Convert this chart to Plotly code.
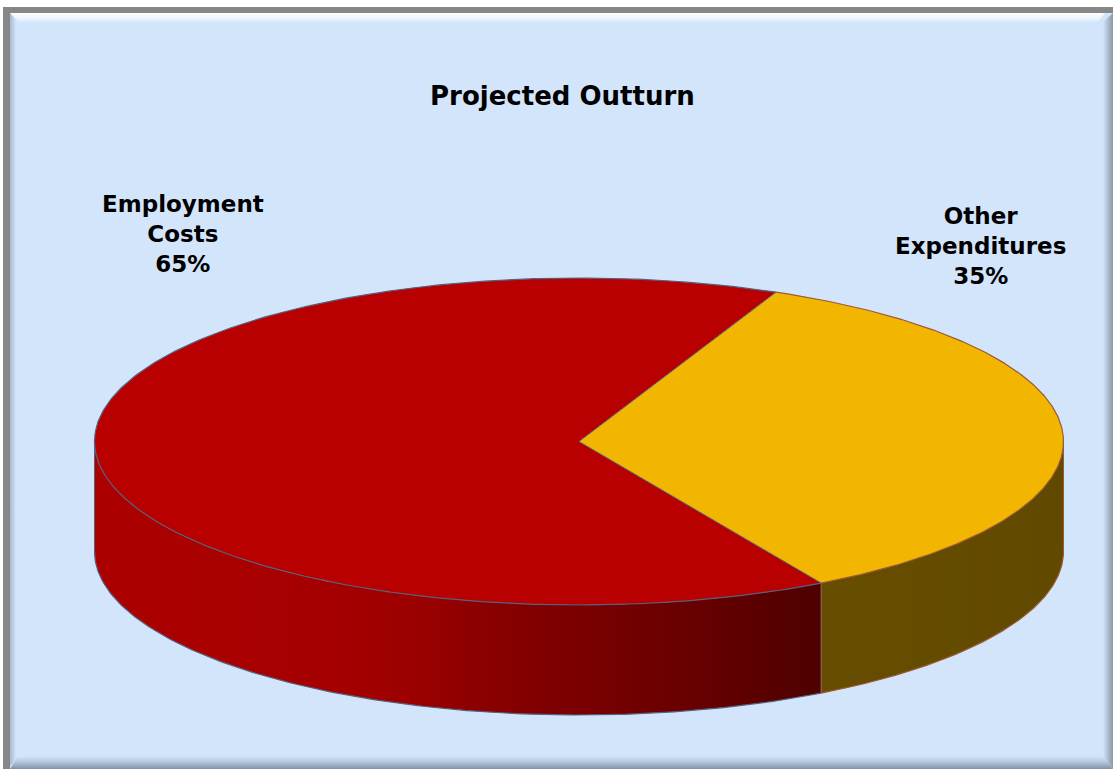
import numpy as np
import plotly.graph_objects as go

# ---- data ----
categories = ["Employment Costs", "Other Expenditures"]
label_names = ["Employment<br>Costs", "Other<br>Expenditures"]
values = [65, 35]
title_text = "Projected Outturn"

# ---- style ----
top_colors = [(184, 0, 0), (242, 182, 0)]
edge_colors = ["#55607E", "#9C5A32"]
label_pos = [(183, 234), (980, 246)]
BG = "#D3E5FB"
FONT = "DejaVu Sans, Verdana, sans-serif"

W, H = 1113, 769
CX, CY = 579.0, 441.5      # centre of the top face (pixels)
RX, RY = 484.5, 163.5      # radii of the top ellipse
DEPTH = 110.0              # thickness of the disc
START_DEG = -60.0          # first slice starts here (anticlockwise from 3 o'clock), slices run clockwise

# side-wall lighting as a function of x
shade_x = [95, 250, 350, 400, 470, 480, 580, 680, 822, 1063]
shade_f = [0.935, 0.913, 0.886, 0.86, 0.775, 0.75, 0.663, 0.576, 0.424, 0.40]


def ellipse(t_deg, dy=0.0):
    t = np.radians(np.asarray(t_deg, dtype=float))
    return CX + RX * np.cos(t), CY - RY * np.sin(t) + dy


def rgb(c, f=1.0):
    return "rgb(%d,%d,%d)" % tuple(int(round(v * f)) for v in c)


def poly(xs, ys, **kw):
    return go.Scatter(x=list(xs), y=list(ys), mode="lines", fill="toself",
                      hoverinfo="skip", showlegend=False, **kw)


def line(xs, ys, color, width=1.2):
    return go.Scatter(x=list(xs), y=list(ys), mode="lines", hoverinfo="skip",
                      showlegend=False, line=dict(color=color, width=width))


fig = go.Figure()

# ---- frame ----
fig.add_trace(poly([3, W, W, 3], [7, 7, H, H], fillcolor="#878787", line=dict(width=0)))
fig.add_trace(poly([10, W, W, 10], [13, 13, H, H], fillcolor=BG, line=dict(width=0)))
fig.add_trace(poly([10, 1105, 1097, 20], [13, 13, 23, 23], line=dict(width=0),
                   fillgradient=dict(type="vertical", start=13, stop=23,
                                     colorscale=[[0, "#FBFDFF"], [0.5, "#EEF6FF"], [1, BG]])))
fig.add_trace(poly([10, 16, 16, 10], [13, 20, 760, 766], line=dict(width=0),
                   fillgradient=dict(type="horizontal", start=10, stop=16,
                                     colorscale=[[0, "#A9BACD"], [1, BG]])))
fig.add_trace(poly([1103, W, W, 1103], [22, 13, H, 756], line=dict(width=0),
                   fillgradient=dict(type="horizontal", start=1103, stop=W,
                                     colorscale=[[0, BG], [0.35, "#B9CADD"], [1, "#8797AA"]])))
fig.add_trace(poly([18, 1103, W, 10], [756, 756, H, H], line=dict(width=0),
                   fillgradient=dict(type="vertical", start=756, stop=H,
                                     colorscale=[[0, BG], [0.4, "#BBCBDE"], [1, "#8494A8"]])))

# ---- slice angles ----
total = float(sum(values))
spans = []
a = START_DEG
for v in values:
    b = a - 360.0 * v / total
    spans.append((b, a))
    a = b


def front_part(lo, hi):
    """Portion of [lo, hi] that lies on the visible (front) half of the disc."""
    out = []
    for k in range(-3, 3):
        l2, h2 = 180 + 360 * k, 360 + 360 * k
        l, h = max(lo, l2), min(hi, h2)
        if l < h:
            out.append((l, h))
    return out


# ---- side walls ----
for (lo, hi), col in zip(spans, top_colors):
    for l, h in front_part(lo, hi):
        t = np.linspace(l, h, 200)
        xt, yt = ellipse(t)
        xb, yb = ellipse(t[::-1], DEPTH)
        x0, x1 = float(min(xt)), float(max(xt))
        stops = np.linspace(0, 1, 25)
        cs = [[float(s), rgb(col, np.interp(x0 + s * (x1 - x0), shade_x, shade_f))] for s in stops]
        fig.add_trace(poly(np.r_[xt, xb], np.r_[yt, yb], line=dict(width=0),
                           fillgradient=dict(type="horizontal", start=x0, stop=x1, colorscale=cs)))

# ---- top face ----
for (lo, hi), col in zip(spans, top_colors):
    t = np.linspace(hi, lo, 400)
    xs, ys = ellipse(t)
    fig.add_trace(poly(np.r_[CX, xs, CX], np.r_[CY, ys, CY], fillcolor=rgb(col), line=dict(width=0)))

# ---- outlines ----
for (lo, hi), ec in zip(spans, edge_colors):
    t = np.linspace(lo, hi, 400)
    fig.add_trace(line(*ellipse(t), ec))
    for l, h in front_part(lo, hi):
        tt = np.linspace(l, h, 200)
        fig.add_trace(line(*ellipse(tt, DEPTH), ec))
        for e in (l, h):
            xe, ye = ellipse(e)
            fig.add_trace(line([xe, xe], [ye, ye + DEPTH], ec, 1.0))
for lo, hi in spans:
    xe, ye = ellipse(hi)
    fig.add_trace(line([CX, xe], [CY, ye], edge_colors[0], 1.0))

# ---- text ----
fig.add_annotation(x=562, y=96, text=title_text, showarrow=False, xanchor="center", yanchor="middle",
                   font=dict(family=FONT, size=26, color="black", weight="bold"))
for name, v, (lx, ly) in zip(label_names, values, label_pos):
    pct = int(round(100 * v / total))
    fig.add_annotation(x=lx, y=ly, text="%s<br>%d%%" % (name, pct), showarrow=False,
                       xanchor="center", yanchor="middle", align="center",
                       font=dict(family=FONT, size=23, color="black", weight="bold"))

fig.update_layout(
    width=W, height=H, autosize=False,
    margin=dict(l=0, r=0, t=0, b=0, pad=0),
    paper_bgcolor="white", plot_bgcolor="white",
    xaxis=dict(range=[0, W], visible=False, fixedrange=True),
    yaxis=dict(range=[H, 0], visible=False, fixedrange=True),
    showlegend=False,
)
fig.write_html("out.html", config={"displayModeBar": False})
